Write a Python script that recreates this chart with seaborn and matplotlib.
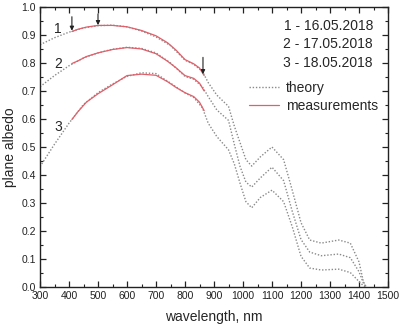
import matplotlib
matplotlib.use("Agg")
import matplotlib.pyplot as plt
from matplotlib.ticker import MultipleLocator
import seaborn as sns
import pandas as pd

# theory curves (dotted), common wavelength grid
wl_theory = [300, 350, 400, 450, 500, 550, 600, 650, 700, 750, 800, 830, 860, 880,
             910, 950, 970, 990, 1010, 1030, 1060, 1100, 1140, 1170, 1200, 1230,
             1270, 1330, 1370, 1400, 1415, 1425]
theory_1 = [0.865, 0.89, 0.91, 0.925, 0.933, 0.935, 0.929, 0.914, 0.893, 0.862, 0.81,
            0.795, 0.77, 0.73, 0.685, 0.645, 0.575, 0.515, 0.455, 0.432, 0.465, 0.50,
            0.455, 0.345, 0.23, 0.168, 0.157, 0.168, 0.157, 0.09, 0.02, 0.0]
theory_2 = [0.715, 0.755, 0.79, 0.818, 0.836, 0.849, 0.856, 0.852, 0.836, 0.80, 0.752,
            0.742, 0.715, 0.68, 0.632, 0.595, 0.51, 0.43, 0.375, 0.357, 0.39, 0.428,
            0.38, 0.27, 0.17, 0.125, 0.112, 0.118, 0.105, 0.055, 0.015, 0.0]
theory_3 = [0.43, 0.51, 0.585, 0.652, 0.694, 0.725, 0.752, 0.765, 0.762, 0.728, 0.693,
            0.677, 0.64, 0.585, 0.537, 0.49, 0.44, 0.37, 0.305, 0.283, 0.32, 0.346,
            0.305, 0.215, 0.11, 0.068, 0.061, 0.064, 0.052, 0.02, 0.005, 0.0]

# measured curves (red solid)
wl_meas = [410, 430, 460, 500, 550, 600, 650, 700, 740, 770, 800, 830, 850, 866]
meas_1 = [0.912, 0.92, 0.928, 0.934, 0.934, 0.929, 0.916, 0.897, 0.872, 0.845, 0.812,
          0.797, 0.782, 0.755]
meas_2 = [0.798, 0.807, 0.823, 0.836, 0.848, 0.855, 0.85, 0.833, 0.806, 0.782, 0.755,
          0.745, 0.728, 0.70]
meas_3 = [0.598, 0.625, 0.66, 0.69, 0.722, 0.755, 0.760, 0.756, 0.733, 0.712, 0.694,
          0.68, 0.66, 0.63]

dates = ["1 - 16.05.2018", "2 - 17.05.2018", "3 - 18.05.2018"]
curve_labels = ["1", "2", "3"]

red = "#e0606a"
gray = "#8a8a8a"


def main():
    sns.set_style("ticks")
    plt.rcParams["font.family"] = ["Liberation Sans", "DejaVu Sans"]

    fig, ax = plt.subplots(figsize=(4.0, 3.3), dpi=100)
    fig.subplots_adjust(left=0.1, right=0.97, bottom=0.13, top=0.979)

    for i, th in enumerate([theory_1, theory_2, theory_3]):
        df = pd.DataFrame({"wl": wl_theory, "a": th})
        sns.lineplot(data=df, x="wl", y="a", ax=ax, color=gray, lw=1.0,
                     linestyle=(0, (1, 1.3)), sort=False,
                     label="theory" if i == 0 else None)
    for i, m in enumerate([meas_1, meas_2, meas_3]):
        df = pd.DataFrame({"wl": wl_meas, "a": m})
        sns.lineplot(data=df, x="wl", y="a", ax=ax, color=red, lw=0.9, sort=False,
                     label="measurements" if i == 0 else None)

    ax.set_xlim(300, 1500)
    ax.set_ylim(0.0, 1.0)
    ax.xaxis.set_major_locator(MultipleLocator(100))
    ax.xaxis.set_minor_locator(MultipleLocator(50))
    ax.yaxis.set_major_locator(MultipleLocator(0.1))
    ax.yaxis.set_minor_locator(MultipleLocator(0.05))
    ax.tick_params(which="both", direction="in", top=True, right=True,
                   labelsize=7.5, pad=3, color="#222222", labelcolor="#222222")
    ax.tick_params(which="major", length=4, width=0.9)
    ax.tick_params(which="minor", length=2, width=0.8)
    for s in ax.spines.values():
        s.set_linewidth(1.0)
        s.set_color("#222222")

    ax.set_xlabel("wavelength, nm", fontsize=10, labelpad=6)
    ax.set_ylabel("plane albedo", fontsize=10, labelpad=3)

    # curve numbers
    for lab, y in zip(curve_labels, [0.92, 0.796, 0.57]):
        ax.text(362, y, lab, fontsize=10, ha="center", va="center")

    # arrows
    for x, y0, y1 in [(410, 0.965, 0.915), (500, 0.975, 0.935), (862, 0.82, 0.76)]:
        ax.annotate("", xy=(x, y1), xytext=(x, y0),
                    arrowprops=dict(arrowstyle="-|>", color="#222222", lw=0.8,
                                    mutation_scale=6, shrinkA=0, shrinkB=0))

    for d, y in zip(dates, [0.932, 0.868, 0.80]):
        ax.text(1448, y, d, fontsize=10, ha="right", va="center")

    ax.legend(loc="upper left", bbox_to_anchor=(0.6, 0.735), frameon=False,
              fontsize=10, handlelength=2.2, handletextpad=0.45,
              borderpad=0, borderaxespad=0, labelspacing=0.25)

    fig.savefig("out.png", dpi=100)


if __name__ == "__main__":
    main()
